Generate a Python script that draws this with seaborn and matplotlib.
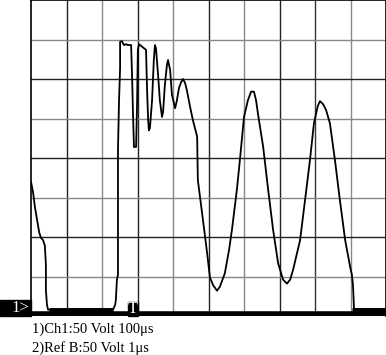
import matplotlib
matplotlib.use("Agg")
import matplotlib.pyplot as plt
from matplotlib.patches import Rectangle
import pandas as pd
import seaborn as sns

# Ch1 trace: time in microseconds, voltage in volts
decay_t = [0, 6, 11, 17, 23, 28, 34, 39, 42, 42, 45, 48]
decay_v = [170, 156, 138, 122, 106, 99, 96, 89, 65, 33, 14, 8]

burst_t = [82, 138, 194, 231, 237, 239, 242, 245, 245, 248, 251, 251,
           256, 262, 268, 273, 282, 285, 287, 290, 296, 299, 301, 304,
           310, 318, 324, 327, 330, 332, 335, 341, 346, 349, 352, 358,
           363, 369, 372, 377, 383, 386, 392, 397, 406, 411, 417, 423,
           428, 434, 439, 448, 456, 468]
burst_v = [8, 9, 9, 8, 14, 20, 46, 52, 210, 273, 314, 347,
           348, 343, 344, 343, 343, 299, 261, 214, 214, 273, 337, 344,
           342, 339, 337, 286, 248, 235, 238, 273, 324, 343, 339, 305,
           273, 252, 258, 292, 318, 324, 311, 280, 263, 273, 289, 296,
           300, 295, 286, 265, 248, 227]

ring_t = [470, 482, 496, 504, 513, 524, 532, 546, 558, 566, 580, 589,
          600, 611, 620, 628, 634, 639, 654, 668, 682, 696, 710, 721,
          730, 738, 758, 772, 786, 797, 808, 814, 823, 831, 842, 856,
          870, 885, 899, 904, 907, 910, 927, 955, 1000]
ring_v = [172, 130, 80, 49, 39, 32, 37, 54, 84, 109, 160, 200,
          252, 273, 284, 284, 273, 257, 214, 160, 109, 67, 46, 41,
          46, 58, 96, 147, 198, 244, 266, 272, 268, 261, 244, 198,
          147, 96, 62, 52, 39, 8, 9, 9, 9]

labels = ["1)Ch1:50 Volt 100\u03bcs", "2)Ref B:50 Volt 1\u03bcs"]
ground_mark = "1>"
trigger_mark = "T"
trigger_t = 287
volts_per_div = 50
us_per_div = 100

sns.set_style("white")
plt.rcParams["font.family"] = ["Liberation Serif", "DejaVu Serif"]

fig = plt.figure(figsize=(3.86, 3.55), dpi=100)
W, H = 386, 355
ax = fig.add_axes([31 / W, (H - 316) / H, 355 / W, 316 / H])
ax.set_xlim(0, 10 * us_per_div)
ax.set_ylim(0, 8 * volts_per_div)

# graticule
vcols = ["#222222", "#888888", "#222222", "#888888", "#222222",
         "#888888", "#222222", "#333333", "#888888"]
for i, c in zip(range(1, 10), vcols):
    ax.axvline(i * us_per_div, color=c, lw=1.0, zorder=1)
for j in range(1, 8):
    ax.axhline(j * volts_per_div, color="#888888" if j % 2 == 1 else "#222222", lw=1.0, zorder=1)

df = pd.DataFrame({"t": decay_t + burst_t + ring_t, "v": decay_v + burst_v + ring_v})
sns.lineplot(data=df, x="t", y="v", sort=False, estimator=None, color="black", lw=1.3, ax=ax, zorder=3)

# baseline band
ax.axhline(2, color="black", lw=4, zorder=2)
ax.plot([50, 230], [8, 8], color="black", lw=3.5, zorder=3, solid_capstyle="butt")
ax.plot([905, 1000], [8, 8], color="black", lw=3.5, zorder=3, solid_capstyle="butt")

ax.set_xticks([]); ax.set_yticks([])
ax.set_xlabel(""); ax.set_ylabel("")
for s in ["left", "top", "right"]:
    ax.spines[s].set_color("black")
    ax.spines[s].set_linewidth(1.2)
ax.spines["bottom"].set_visible(False)

# trigger marker
ax.add_patch(Rectangle((trigger_t - 15, 0), 30, 18, color="black", zorder=4, clip_on=False))
ax.text(trigger_t, 8.5, trigger_mark, color="white", fontsize=12, ha="center", va="center", zorder=5)

# ground marker
fig.patches.append(Rectangle((0, (H - 316) / H), 31 / W, 16 / H, transform=fig.transFigure, color="black"))
fig.text(20 / W, (H - 308) / H, ground_mark, color="white", fontsize=12, ha="center", va="center")

fig.text(32 / W, (H - 329) / H, labels[0], fontsize=10.5, ha="left", va="center", color="black")
fig.text(32 / W, (H - 348) / H, labels[1], fontsize=10.5, ha="left", va="center", color="black")

fig.savefig("out.png", dpi=100)
